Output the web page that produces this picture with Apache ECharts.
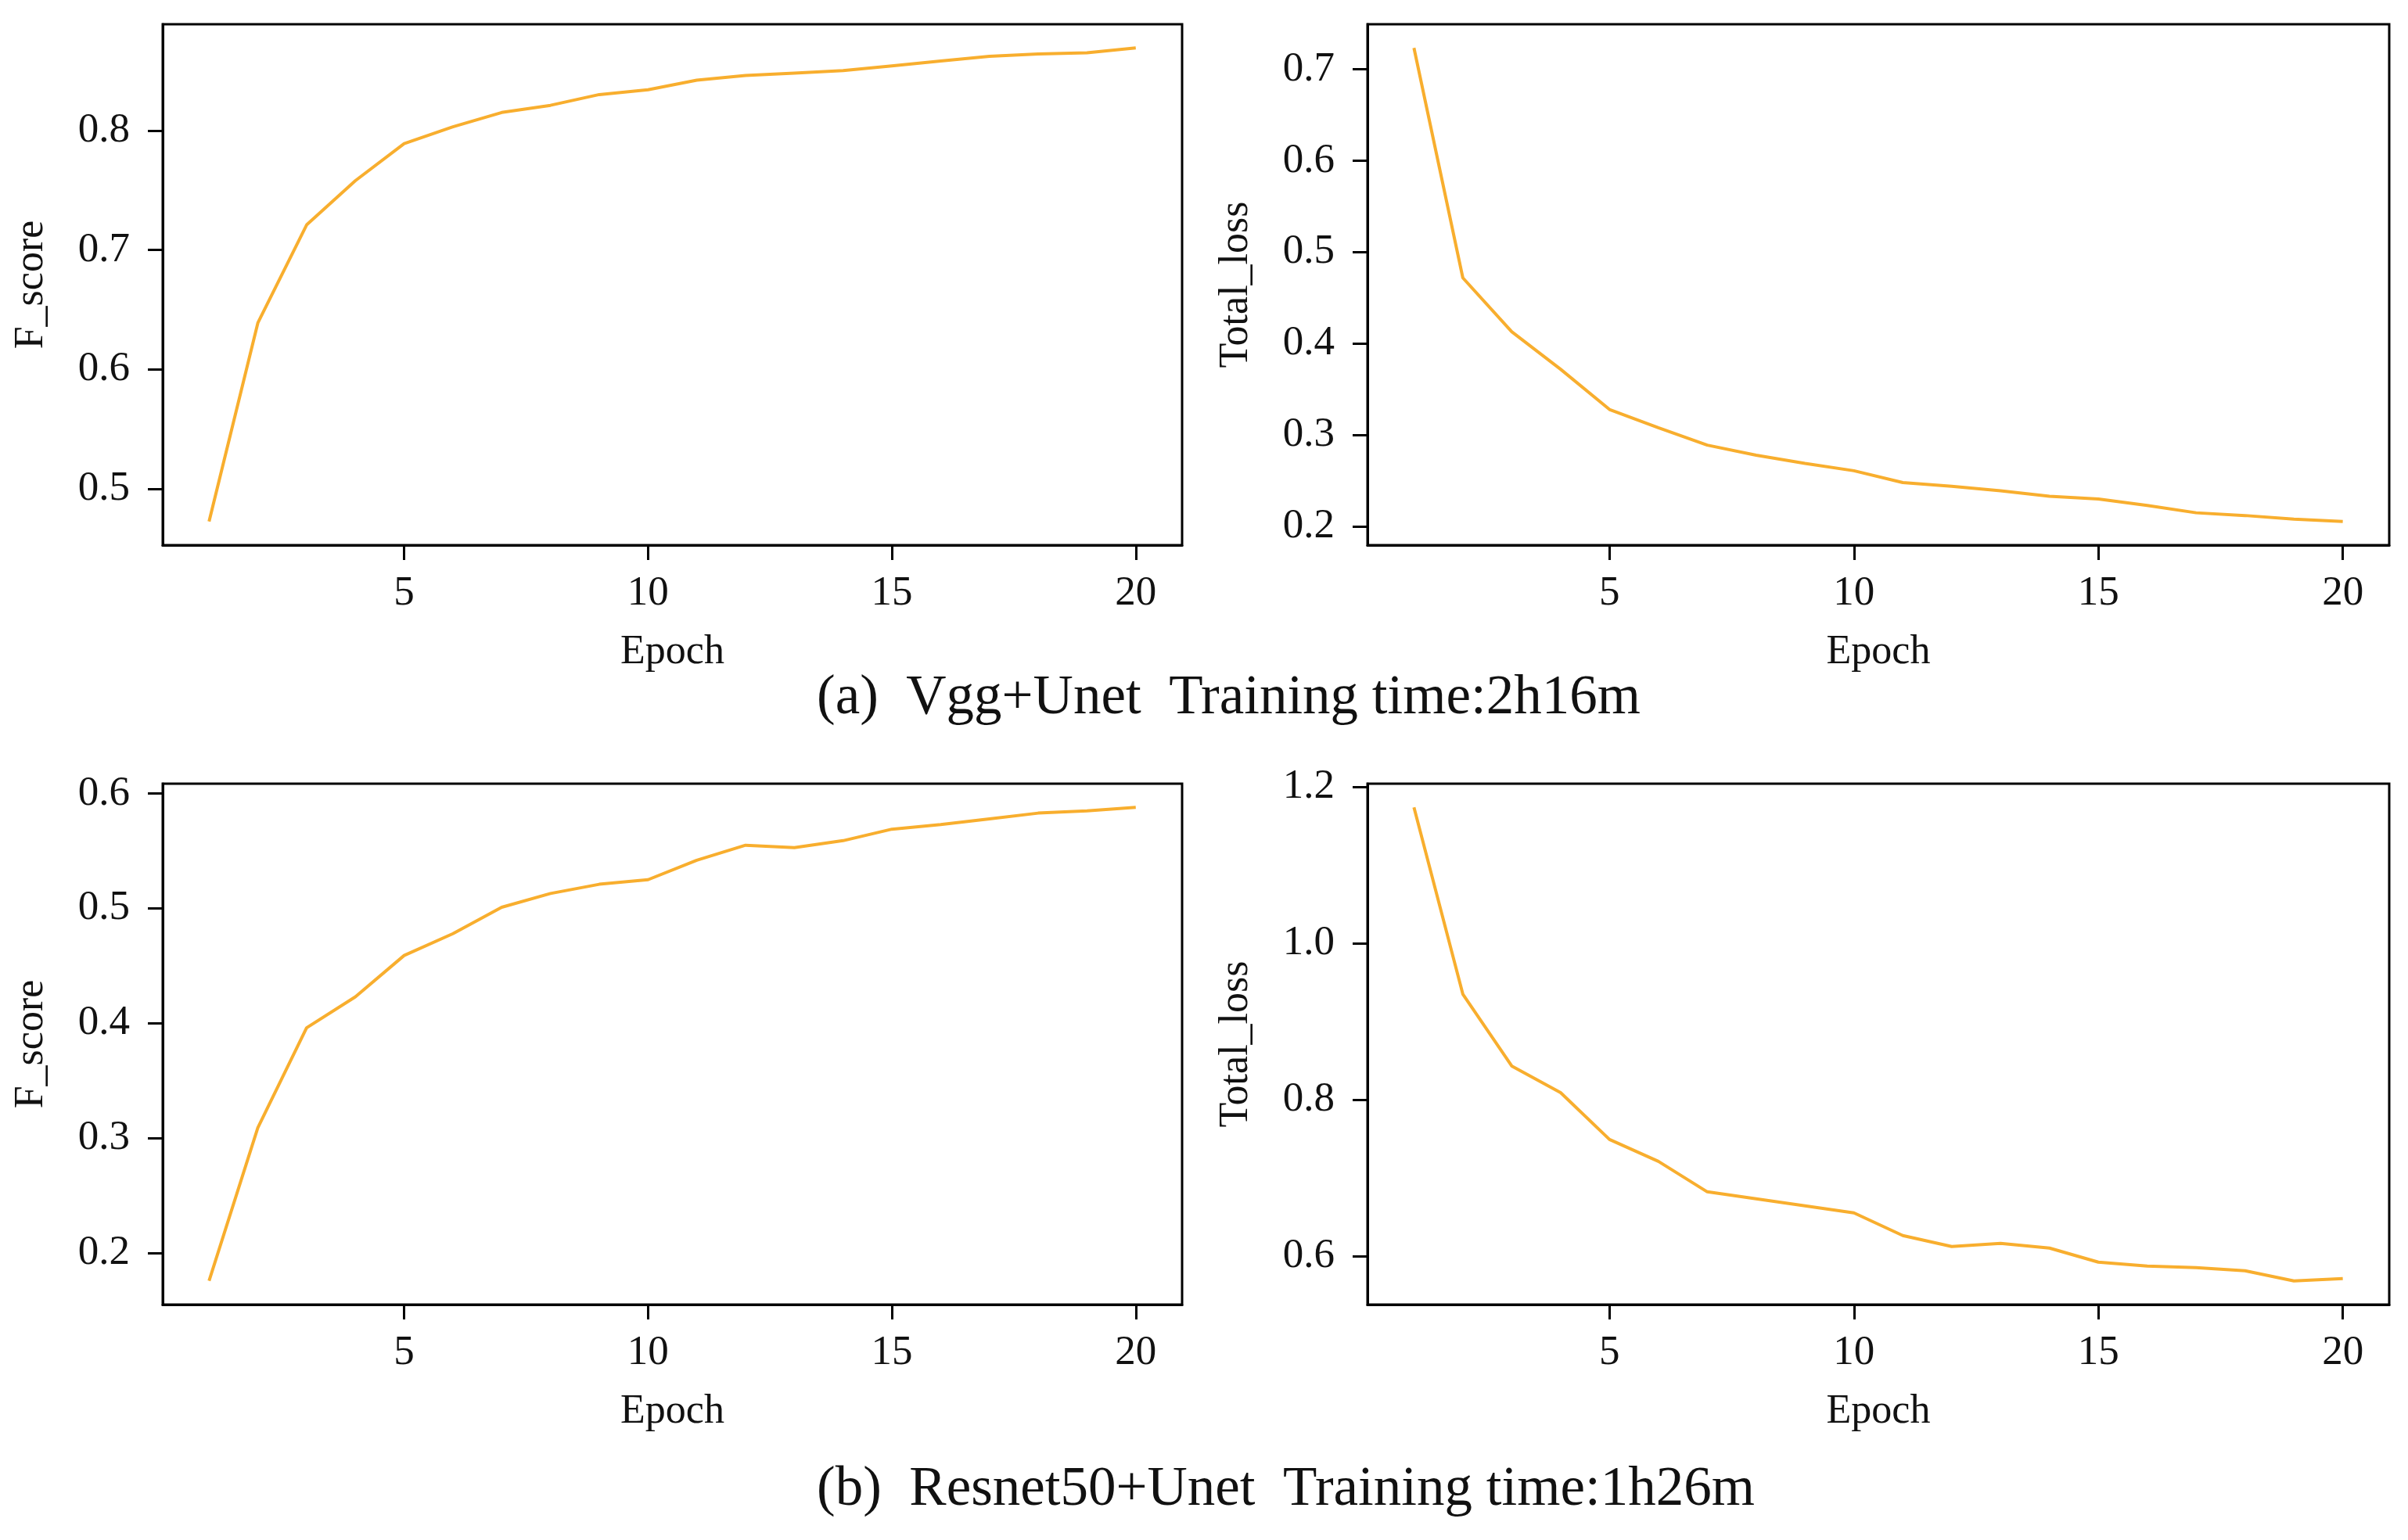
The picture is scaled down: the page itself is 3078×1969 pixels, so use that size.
<!DOCTYPE html>
<html>
<head>
<meta charset="utf-8">
<script src="https://cdn.jsdelivr.net/npm/echarts@6/dist/echarts.min.js"></script>
<style>
  html, body { margin: 0; padding: 0; background: #fff; }
  #main { width: 3078px; height: 1969px; }
</style>
</head>
<body>
<div id="main"></div>
<script>
var epochs = [1, 2, 3, 4, 5, 6, 7, 8, 9, 10, 11, 12, 13, 14, 15, 16, 17, 18, 19, 20];

// (a) Vgg+Unet
var vggFscore = [0.473, 0.639, 0.721, 0.758, 0.789, 0.803, 0.815, 0.821, 0.830, 0.834,
  0.842, 0.846, 0.848, 0.850, 0.854, 0.858, 0.862, 0.864, 0.865, 0.869];
var vggLoss = [0.7235, 0.472, 0.413, 0.372, 0.328, 0.308, 0.289, 0.278, 0.269, 0.261,
  0.248, 0.244, 0.239, 0.233, 0.230, 0.223, 0.215, 0.212, 0.208, 0.2055];

// (b) Resnet50+Unet
var resFscore = [0.1755, 0.309, 0.396, 0.423, 0.459, 0.478, 0.501, 0.513, 0.521, 0.525,
  0.542, 0.555, 0.553, 0.559, 0.569, 0.573, 0.578, 0.583, 0.585, 0.588];
var resLoss = [1.174, 0.935, 0.843, 0.809, 0.749, 0.721, 0.682, 0.673, 0.664, 0.655,
  0.626, 0.612, 0.616, 0.610, 0.592, 0.587, 0.585, 0.581, 0.568, 0.571];

var xTicks = [5, 10, 15, 20];
var ticksVggF = [0.5, 0.6, 0.7, 0.8];
var ticksVggL = [0.2, 0.3, 0.4, 0.5, 0.6, 0.7];
var ticksResF = [0.2, 0.3, 0.4, 0.5, 0.6];
var ticksResL = [0.6, 0.8, 1.0, 1.2];

var captionA = '(a)  Vgg+Unet  Training time:2h16m';
var captionB = '(b)  Resnet50+Unet  Training time:1h26m';

var font = '"Liberation Serif", "DejaVu Serif", serif';
var lineColor = '#F8AE2E';
var textColor = '#111';

// matplotlib style 5% margins
function padded(arr) {
  var mn = Math.min.apply(null, arr), mx = Math.max.apply(null, arr);
  var m = (mx - mn) * 0.05;
  return [mn - m, mx + m];
}

var panels = [
  { left: 208, top: 31, width: 1303, height: 666, data: vggFscore, ticks: ticksVggF, name: 'F_score' },
  { left: 1748, top: 31, width: 1306, height: 666, data: vggLoss, ticks: ticksVggL, name: 'Total_loss' },
  { left: 208, top: 1002, width: 1303, height: 666, data: resFscore, ticks: ticksResF, name: 'F_score' },
  { left: 1748, top: 1002, width: 1306, height: 666, data: resLoss, ticks: ticksResL, name: 'Total_loss' }
];

var grids = [], xAxes = [], yAxes = [], series = [];
panels.forEach(function (p, i) {
  grids.push({
    left: p.left, top: p.top, width: p.width, height: p.height,
    show: true, borderColor: '#000', borderWidth: 3, backgroundColor: 'transparent'
  });
  var xr = padded(epochs);
  xAxes.push({
    type: 'value', gridIndex: i, min: xr[0], max: xr[1],
    name: 'Epoch', nameLocation: 'middle', nameGap: 111,
    nameTextStyle: { fontFamily: font, fontSize: 52, color: textColor },
    axisLine: { show: true, onZero: false, lineStyle: { color: '#000', width: 3 } },
    axisTick: { show: true, length: 19, inside: false, customValues: xTicks, lineStyle: { color: '#000', width: 3 } },
    axisLabel: { customValues: xTicks, margin: 36, fontFamily: font, fontSize: 53, color: textColor },
    splitLine: { show: false }
  });
  var yr = padded(p.data);
  yAxes.push({
    type: 'value', gridIndex: i, min: yr[0], max: yr[1],
    name: p.name, nameLocation: 'middle', nameGap: 142, nameRotate: 90,
    nameTextStyle: { fontFamily: font, fontSize: 52, color: textColor },
    axisLine: { show: true, onZero: false, lineStyle: { color: '#000', width: 3 } },
    axisTick: { show: true, length: 19, inside: false, customValues: p.ticks, lineStyle: { color: '#000', width: 3 } },
    axisLabel: {
      customValues: p.ticks, margin: 42, fontFamily: font, fontSize: 53, color: textColor,
      formatter: function (v) { return v.toFixed(1); }
    },
    splitLine: { show: false }
  });
  series.push({
    type: 'line', xAxisIndex: i, yAxisIndex: i,
    data: epochs.map(function (e, k) { return [e, p.data[k]]; }),
    showSymbol: false, smooth: false,
    lineStyle: { color: lineColor, width: 4 },
    itemStyle: { color: lineColor }
  });
});

var option = {
  backgroundColor: '#fff',
  animation: false,
  grid: grids,
  xAxis: xAxes,
  yAxis: yAxes,
  series: series,
  graphic: [
    { type: 'text', left: 1044, top: 858, style: { text: captionA, fontFamily: font, fontSize: 71, fill: textColor } },
    { type: 'text', left: 1044, top: 1870, style: { text: captionB, fontFamily: font, fontSize: 71, fill: textColor } }
  ]
};

var myChart = echarts.init(document.getElementById('main'));
myChart.setOption(option);
</script>
</body>
</html>
